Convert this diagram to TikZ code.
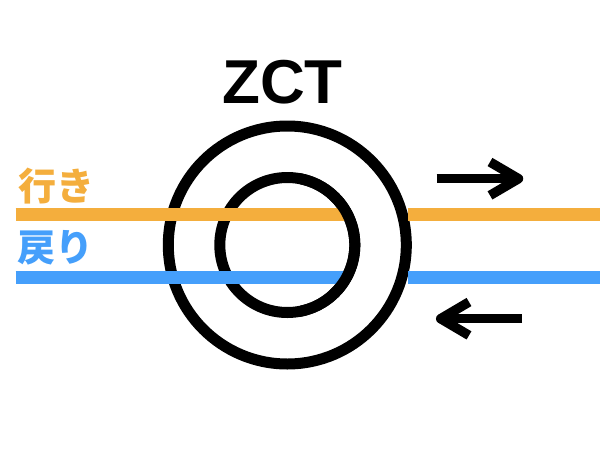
\documentclass[tikz,border=0pt]{standalone}
\usepackage{fontspec}
\setmainfont{Liberation Sans}
\newfontfamily\cjk{Noto Sans CJK JP}
\definecolor{wireA}{HTML}{F4AE3D}
\definecolor{wireB}{HTML}{459FFB}
\tikzset{
 ring/.style={draw=black,line width=11pt},
 wireo/.style={draw=wireA,line width=13pt},
 wireb/.style={draw=wireB,line width=13pt},
 arrowline/.style={draw=black,line width=9.5pt,line join=round}}
\begin{document}
\begin{tikzpicture}[x=1pt,y=-1pt]
\useasboundingbox (0,0) rectangle (600,450);
\fill[white] (0,0) rectangle (600,450);
\coordinate (c) at (287.3,245);
\draw[ring] (c) circle (119);
\draw[ring] (c) circle (67.5);
\draw[wireo] (15.5,214.5) -- (345,214.5);
\draw[wireb] (15.5,277) -- (345,277);
\draw[wireo] (407.5,214.5) -- (600,214.5);
\draw[wireb] (407.5,277) -- (600,277);
\begin{scope}
\clip (300,100) rectangle (400,400);
\draw[ring] (c) circle (67.5);
\end{scope}
\draw[arrowline] (436.5,178.7) -- (516,178.7);
\draw[arrowline] (490,162) -- (518.5,178.7) -- (490,195.4);
\draw[arrowline] (522,318.7) -- (443,318.7);
\draw[arrowline] (469,302) -- (440.7,318.7) -- (469,335.4);
\node[font=\bfseries\fontsize{62}{62}\selectfont] (z) at (282.5,82.5) {ZCT};
\node[text=wireA,font=\cjk\bfseries\fontsize{38}{38}\selectfont] (a) at (56,186) {行き};
\node[text=wireB,font=\cjk\bfseries\fontsize{38}{38}\selectfont] (b) at (55,248) {戻り};
\end{tikzpicture}
\end{document}
